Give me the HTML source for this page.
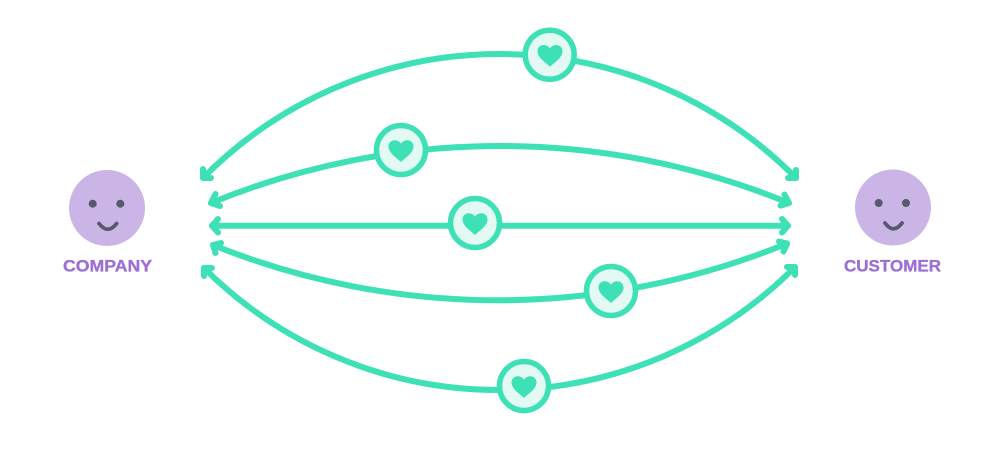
<!DOCTYPE html>
<html>
<head>
<meta charset="utf-8">
<style>
html,body{margin:0;padding:0;background:#fff;width:1000px;height:454px;overflow:hidden}
svg{display:block}
text{font-family:"Liberation Sans",sans-serif;font-weight:700;font-size:17px;fill:#9d6fd3;stroke:#9d6fd3;stroke-width:.35px}
</style>
</head>
<body>
<svg width="1000" height="454" viewBox="0 0 1000 454" xmlns="http://www.w3.org/2000/svg">
<defs>
<path id="h" d="M0 11.500C-4 7.500-12.500 2.500-12.500-4C-12.500-8-9.500-10.300-6.300-10.300C-3.500-10.300-1.200-8.800 0-6.800C1.200-8.800 3.500-10.300 6.300-10.300C9.500-10.300 12.500-8 12.500-4C12.500 2.500 4 7.500 0 11.500Z" fill="#3ee0b5"/>
</defs>
<g fill="none" stroke="#3ee0b5" stroke-width="6" stroke-linecap="round" stroke-linejoin="round">
<path d="M203 178A416.500 416.500 0 0 1 796 178"/>
<path d="M211 203A761 761 0 0 1 789 203"/>
<path d="M212 225.700H788"/>
<path d="M213 245A763 763 0 0 0 787 243.500"/>
<path d="M204 268A417.600 417.600 0 0 0 795 267"/>
<path d="M203 169L203 178L211 178"/>
<path d="M796 170L796 178L788 178"/>
<path d="M215.500 194L211 203L220 206"/>
<path d="M784.500 194.500L789 203L780.500 205.600"/>
<path d="M218 219L212 225.700L218 232.500"/>
<path d="M782 219L788 225.700L782 232.500"/>
<path d="M221 243L213 245L215.500 253"/>
<path d="M779 241.500L787 243.500L783.500 251.500"/>
<path d="M204 276L204 268L212 268"/>
<path d="M795 275L795 267L787 267"/>
</g>
<g fill="#e3f9f3" stroke="#3ee0b5" stroke-width="5.500">
<circle cx="549.700" cy="54.700" r="24.500"/>
<circle cx="401" cy="150" r="24.500"/>
<circle cx="475" cy="223" r="24.500"/>
<circle cx="611" cy="291" r="24.500"/>
<circle cx="524" cy="386" r="24.500"/>
</g>
<use href="#h" x="550" y="55.300"/>
<use href="#h" x="401" y="150.500"/>
<use href="#h" x="475" y="223.500"/>
<use href="#h" x="611" y="291.500"/>
<use href="#h" x="524" y="386.500"/>
<circle cx="107" cy="208" r="38" fill="#cbb5e6"/>
<circle cx="92.700" cy="203.700" r="4" fill="#565a6b"/>
<circle cx="120.300" cy="203.700" r="4" fill="#565a6b"/>
<path d="M99 223.500Q107.800 235 116.600 223.500" fill="none" stroke="#565a6b" stroke-width="3.800" stroke-linecap="round"/>
<circle cx="893" cy="207.500" r="38" fill="#cbb5e6"/>
<circle cx="878.700" cy="203" r="4" fill="#565a6b"/>
<circle cx="906" cy="203" r="4" fill="#565a6b"/>
<path d="M885 223Q893.500 234.500 902 223" fill="none" stroke="#565a6b" stroke-width="3.800" stroke-linecap="round"/>
<text x="63" y="271.500" textLength="89" lengthAdjust="spacingAndGlyphs">COMPANY</text>
<text x="844" y="271.500" textLength="97" lengthAdjust="spacingAndGlyphs">CUSTOMER</text>
</svg>
</body>
</html>
